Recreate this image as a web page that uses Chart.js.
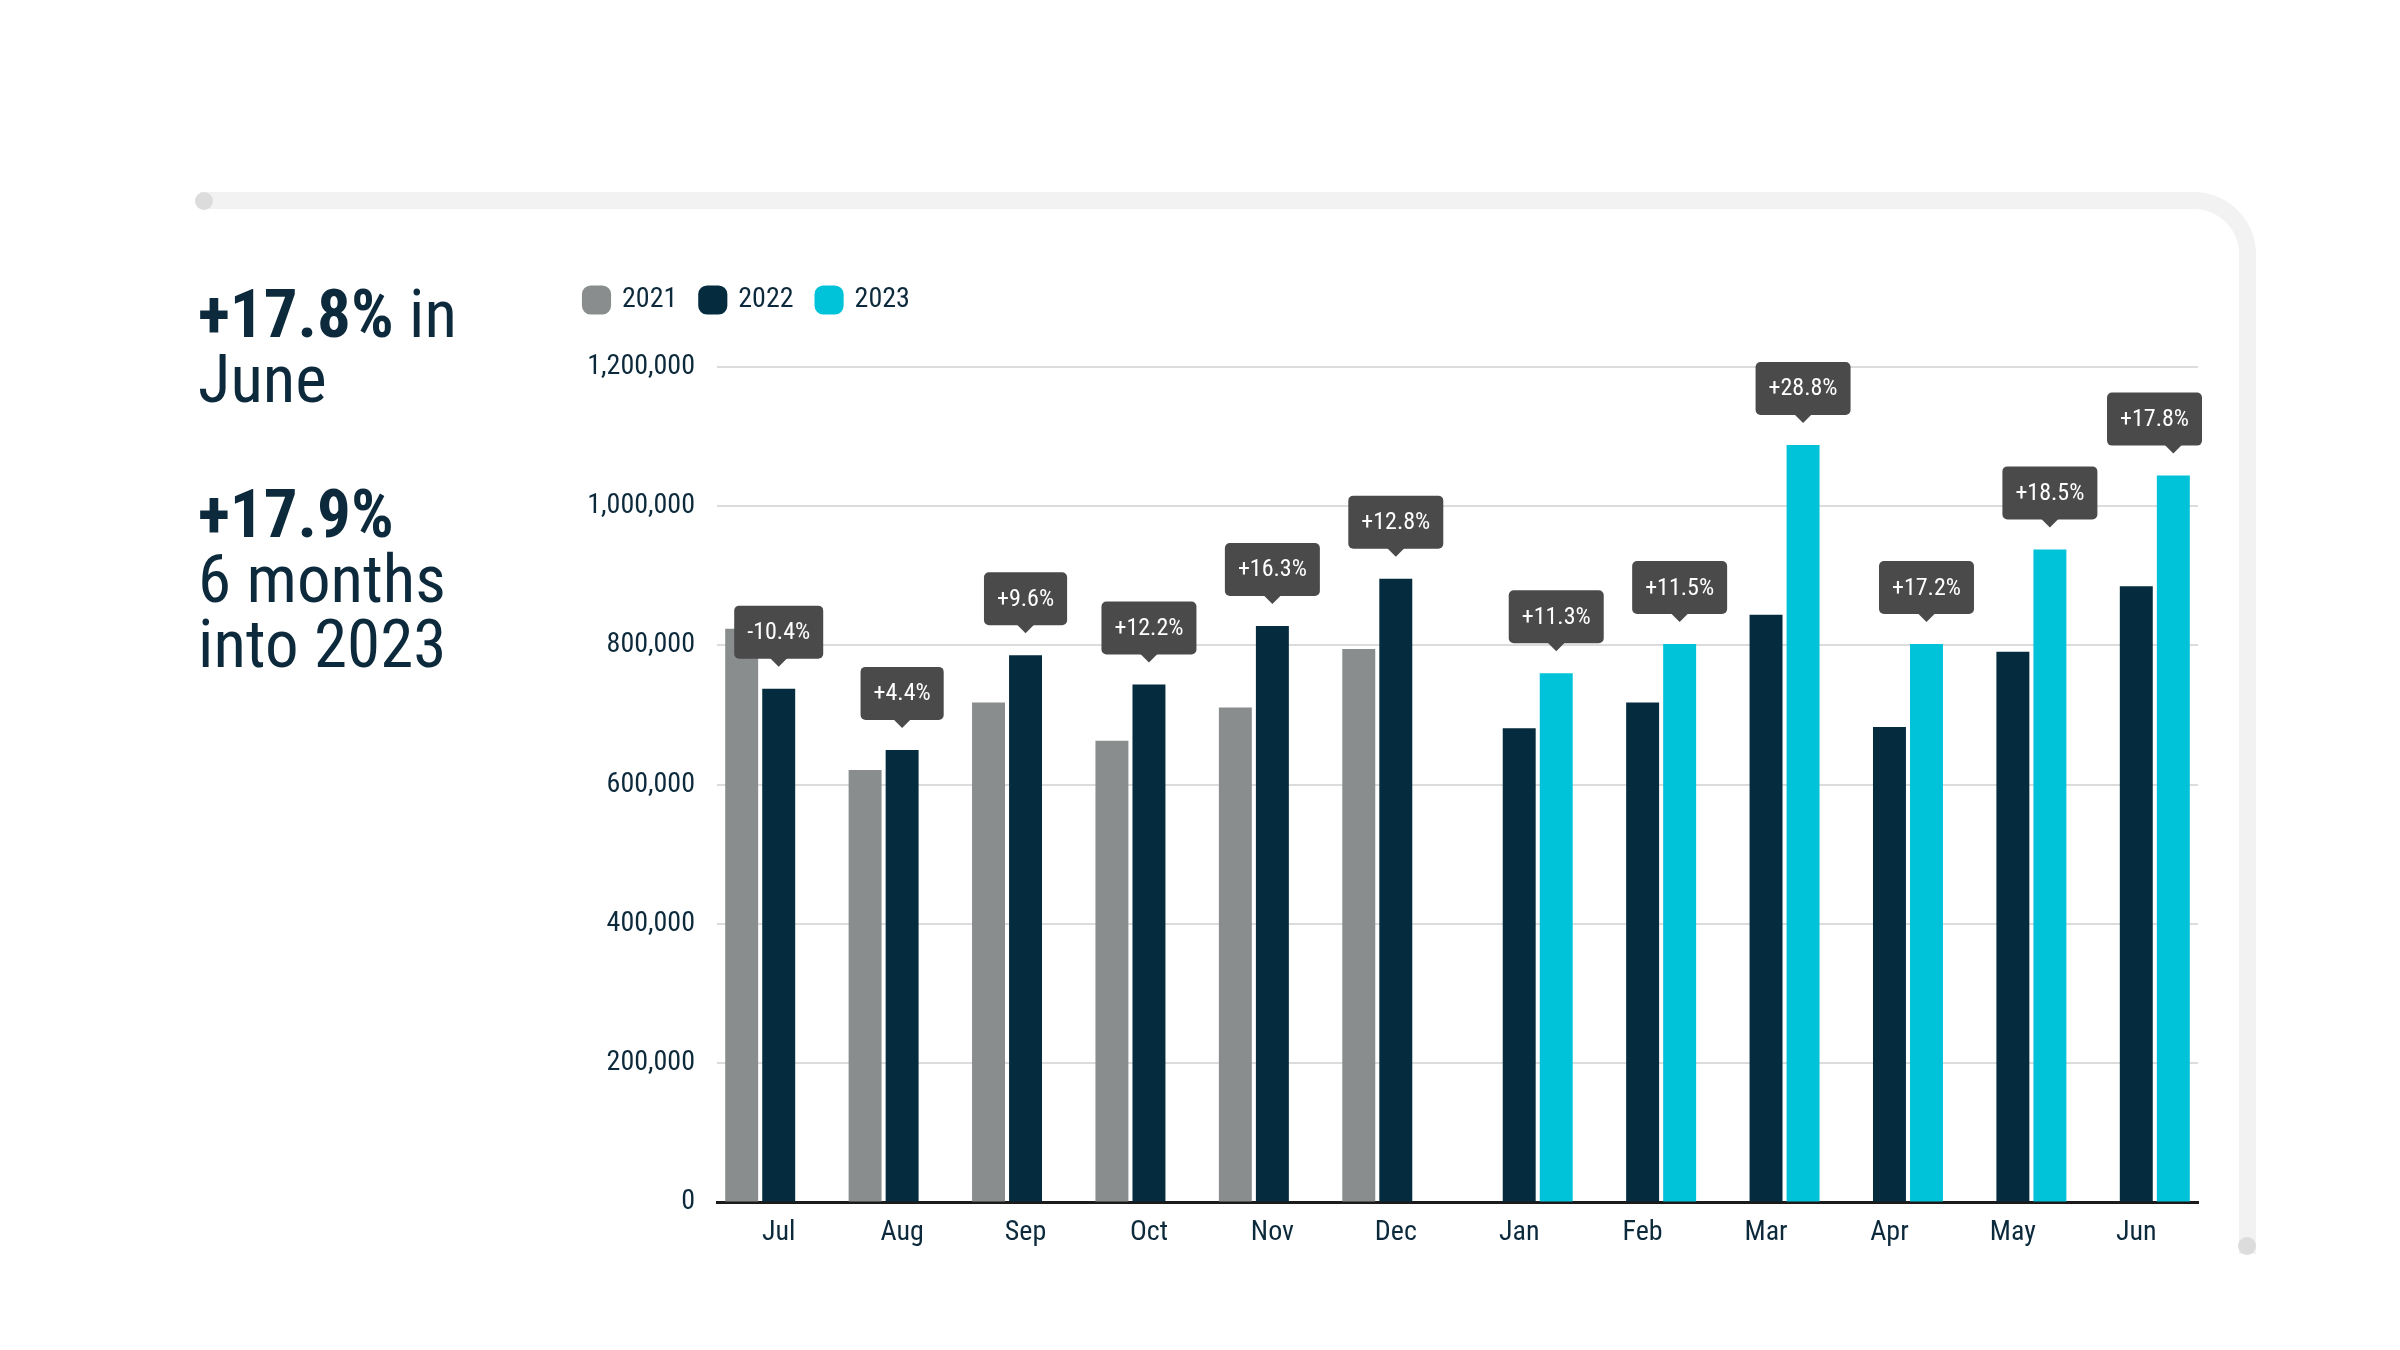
<!DOCTYPE html>
<html>
<head>
<meta charset="utf-8">
<script src="https://cdn.jsdelivr.net/npm/chart.js@4.4.0/dist/chart.umd.min.js"></script>
<style>
  html, body { margin:0; padding:0; background:#fff; }
  body { width:2400px; height:1350px; position:relative; overflow:hidden;
         font-family:"Roboto Condensed","Liberation Sans Narrow","DejaVu Sans Condensed",sans-serif; }
  #frame { position:absolute; left:200px; top:192px; width:2039px; height:1045px;
           border-top:17px solid #f2f2f2; border-right:17px solid #f2f2f2;
           border-top-right-radius:62px; }
  .dot { position:absolute; width:18px; height:18px; border-radius:9px; background:#dcdcdc; }
  #headline { position:absolute; left:198px; top:282px; color:#0c2a3b;
              font-size:67px; line-height:65px; }
  #headline b { font-weight:bold; }
  #headline p { margin:0 0 70px 0; }
  #wrap { position:absolute; left:561px; top:262px; }
</style>
</head>
<body>
<div id="frame"></div>
<div class="dot" style="left:195px;top:192px;"></div>
<div class="dot" style="left:2238px;top:1237px;"></div>

<div id="headline">
  <p><b>+17.8%</b> in<br>June</p>
  <p><b>+17.9%</b><br>6 months<br>into 2023</p>
</div>

<div id="wrap"><canvas id="salesChart" width="1657" height="994"></canvas></div>

<script>
// Jul-Dec compares 2022 with 2021, Jan-Jun compares 2023 with 2022
var months = ['Jul','Aug','Sep','Oct','Nov','Dec','Jan','Feb','Mar','Apr','May','Jun'];
var sales2021 = [824000, 621000, 718000, 663000, 711000, 795000, null, null, null, null, null, null];
var sales2022 = [738000, 650000, 786000, 744000, 828000, 896000, 681000, 718000, 844000, 683000, 791000, 885000];
var sales2023 = [null, null, null, null, null, null, 760000, 802000, 1088000, 802000, 938000, 1044000];
var yoyLabels = ['-10.4%','+4.4%','+9.6%','+12.2%','+16.3%','+12.8%','+11.3%','+11.5%','+28.8%','+17.2%','+18.5%','+17.8%'];
var yMax = 1200000;
var yStep = 200000;

var fontFam = '"Roboto Condensed","Liberation Sans Narrow","DejaVu Sans Condensed",sans-serif';
var navy = '#042b3e';
Chart.defaults.font.family = fontFam;
Chart.defaults.color = '#0c2a3b';

// push the plot down a bit below the legend
var legendGap = {
    id:'legendGap',
    beforeInit:function(chart){
        var fit = chart.legend.fit;
        chart.legend.fit = function(){
            fit.bind(chart.legend)();
            this.height += 43;
        };
    }
};

// dark percentage tags above the newest bar of each month
var yoyTags = {
    id:'yoyTags',
    afterDatasetsDraw:function(chart){
        var ctx = chart.ctx;
        var area = chart.chartArea;
        ctx.save();
        ctx.font = '24px ' + fontFam;
        ctx.textAlign = 'center';
        ctx.textBaseline = 'middle';
        for(let i=0; i<months.length; i++) {
            let ds = sales2023[i] != null ? 2 : 1;
            let bar = chart.getDatasetMeta(ds).data[i];
            let tipY = bar.y - 22;
            let w = ctx.measureText(yoyLabels[i]).width + 26;
            let h = 53;
            let top = tipY - 8 - h;
            let left = Math.min(bar.x - w/2, area.right + 4 - w);
            ctx.fillStyle = '#4a4a4a';
            ctx.beginPath();
            ctx.roundRect(left, top, w, h, 5);
            ctx.fill();
            ctx.beginPath();
            ctx.moveTo(bar.x - 9, top + h - 1);
            ctx.lineTo(bar.x + 9, top + h - 1);
            ctx.lineTo(bar.x, tipY);
            ctx.closePath();
            ctx.fill();
            ctx.fillStyle = '#ffffff';
            ctx.fillText(yoyLabels[i], left + w/2, top + h/2 + 1);
        }
        ctx.restore();
    }
};

var salesChart = new Chart(document.getElementById('salesChart'), {
    type:'bar',
    data:{
        labels:months,
        datasets:[
            { label:'2021', data:sales2021, backgroundColor:'#898d8d' },
            { label:'2022', data:sales2022, backgroundColor:navy },
            { label:'2023', data:sales2023, backgroundColor:'#00c2d8' }
        ]
    },
    options:{
        responsive:false,
        animation:false,
        layout:{ padding:{ left:0, right:20, top:0, bottom:0 } },
        datasets:{ bar:{ barPercentage:0.89, categoryPercentage:0.9 } },
        plugins:{
            tooltip:{ enabled:false },
            legend:{
                position:'top',
                align:'start',
                labels:{
                    usePointStyle:true,
                    pointStyle:'rectRounded',
                    boxWidth:23,
                    boxHeight:24,
                    padding:24,
                    font:{ size:28 },
                    color:'#0c2a3b'
                }
            }
        },
        scales:{
            x:{
                grid:{ display:false },
                border:{ display:true, color:'#1b1b1b', width:3 },
                ticks:{ font:{ size:28 }, padding:6, color:'#0c2a3b' }
            },
            y:{
                min:0, max:yMax,
                afterFit:function(scale){ scale.width = 156; },
                grid:{ color:'#dcdcdc', lineWidth:2, drawTicks:false },
                border:{ display:false },
                ticks:{
                    stepSize:yStep,
                    padding:22,
                    font:{ size:28 },
                    color:'#0c2a3b',
                    callback:function(v){ return v.toLocaleString('en-US'); }
                }
            }
        }
    },
    plugins:[legendGap, yoyTags]
});
</script>
</body>
</html>
